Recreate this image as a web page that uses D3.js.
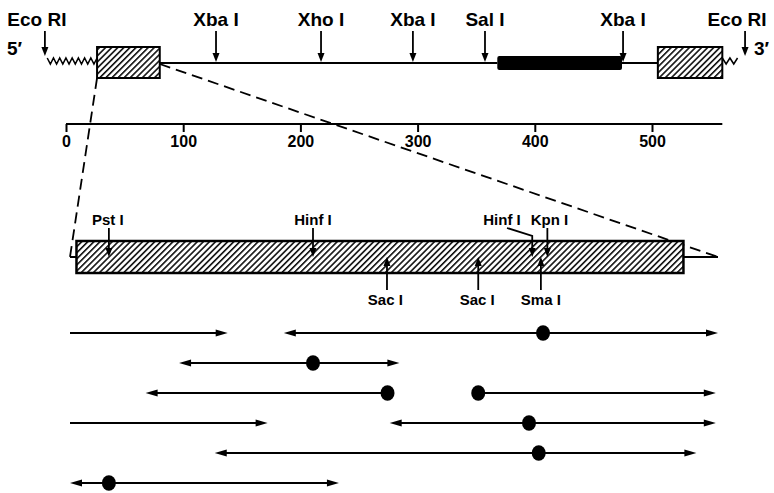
<!DOCTYPE html>
<html><head><meta charset="utf-8">
<script src="https://cdn.jsdelivr.net/npm/d3@7"></script>
<style>
html,body{margin:0;padding:0;background:#fff;}
svg{display:block;font-family:"Liberation Sans",Arial,Helvetica,sans-serif;font-weight:bold;}
</style></head>
<body><svg id="c" width="774" height="493"></svg>
<script>
// ---- data ----
const scaleTicks = [0, 100, 200, 300, 400, 500];
const scaleMax = 560;

const topSiteNames = ["Eco RI", "Xba I", "Xho I", "Xba I", "Sal I", "Xba I", "Eco RI"];
const topSitePos   = [-18, 128, 217.6, 296, 357.5, 475.3, 579.4];

const topSegType  = ["wavy", "hatched", "line", "black", "line", "hatched", "wavy"];
const topSegStart = [-16, 26.5, 80, 368, 474.4, 505, 560];
const topSegEnd   = [26.5, 80, 368, 474.4, 505, 560, 573];

const lowerSiteNames   = ["Pst I", "Hinf I", "Hinf I", "Kpn I", "Sac I", "Sac I", "Sma I"];
const lowerSitePos     = [36, 225, 428, 442, 293.5, 378, 436];
const lowerSiteSide    = ["above", "above", "above", "above", "below", "below", "below"];
const lowerSiteLabelAt = [35, 225, 400, 444, 292, 377, 436];

const lowerRange = [0, 600];
const lowerBox   = [6, 568];

const fragRow   = [0, 0, 1, 2, 2, 3, 3, 4, 5];
const fragFrom  = [0, 198, 101, 70, 378, 0, 296, 134, 0];
const fragTo    = [146, 600, 305, 294, 598, 183, 598, 580, 249];
const fragDot   = [null, 438, 225, 294, 378, null, 425, 434, 36];
const fragHeads = ["end", "both", "both", "start", "end", "end", "both", "both", "both"];

// ---- drawing ----
const svg = d3.select("#c");
const x  = d3.scaleLinear().domain([0, scaleMax]).range([66, 66 + scaleMax * 1.172]);
const xl = d3.scaleLinear().domain(lowerRange).range([70, 718]);
const rowY = d3.scaleLinear().domain([0, 5]).range([333, 483]);

const defs = svg.append("defs");
const pat = defs.append("pattern").attr("id", "hatch").attr("patternUnits", "userSpaceOnUse")
  .attr("width", 4.3).attr("height", 4.3).attr("patternTransform", "rotate(45)");
pat.append("rect").attr("width", 4.3).attr("height", 4.3).attr("fill", "#fff");
pat.append("line").attr("x1", 0.8).attr("y1", 0).attr("x2", 0.8).attr("y2", 4.3)
  .attr("stroke", "#000").attr("stroke-width", 1.5);

const lineY = 63;

function headDown(g, cx, tipY, len, hw) {
  g.append("path").attr("d", `M${cx},${tipY}L${cx - hw},${tipY - len}L${cx + hw},${tipY - len}Z`).attr("fill", "#000");
}
function headUp(g, cx, tipY, len, hw) {
  g.append("path").attr("d", `M${cx},${tipY}L${cx - hw},${tipY + len}L${cx + hw},${tipY + len}Z`).attr("fill", "#000");
}
function headH(g, tipX, cy, dir, len, hw) {
  g.append("path").attr("d", `M${tipX},${cy}L${tipX - dir * len},${cy - hw}L${tipX - dir * len},${cy + hw}Z`).attr("fill", "#000");
}

// dashed zoom lines (behind)
const dash = svg.append("g").attr("stroke", "#000").attr("stroke-width", 1.8).attr("stroke-dasharray", "11,6").attr("fill", "none");
dash.append("line").attr("x1", x(26.5)).attr("y1", 78).attr("x2", xl(lowerRange[0])).attr("y2", 257);
dash.append("line").attr("x1", x(80)).attr("y1", 64).attr("x2", xl(lowerRange[1])).attr("y2", 257);

// top map
const topG = svg.append("g");
topSegType.forEach((t, i) => {
  const a = x(topSegStart[i]), b = x(topSegEnd[i]);
  if (t === "line") {
    topG.append("line").attr("x1", a).attr("x2", b).attr("y1", lineY).attr("y2", lineY)
      .attr("stroke", "#000").attr("stroke-width", 2);
  } else if (t === "hatched") {
    topG.append("rect").attr("x", a).attr("y", 47).attr("width", b - a).attr("height", 31)
      .attr("fill", "url(#hatch)").attr("stroke", "#000").attr("stroke-width", 2);
  } else if (t === "black") {
    topG.append("rect").attr("x", a).attr("y", 56).attr("width", b - a).attr("height", 14).attr("rx", 2)
      .attr("fill", "#000");
  } else if (t === "wavy") {
    const n = Math.max(2, Math.round((b - a) / 6.5));
    const pts = [];
    for (let k = 0; k <= n * 2; k++) {
      pts.push([a + (b - a) * k / (n * 2), k % 2 === 0 ? 58 : 64]);
    }
    topG.append("path").attr("d", d3.line()(pts)).attr("fill", "none").attr("stroke", "#000").attr("stroke-width", 1.5);
  }
});

// top sites
topSiteNames.forEach((name, i) => {
  const cx = x(topSitePos[i]);
  const isEnd = name === "Eco RI";
  const tip = isEnd ? 56 : lineY - 1;
  topG.append("line").attr("x1", cx).attr("x2", cx).attr("y1", 31).attr("y2", tip - 7)
    .attr("stroke", "#000").attr("stroke-width", 1.8);
  headDown(topG, cx, tip, 9, 3.5);
  topG.append("text").attr("x", cx + (isEnd ? -8 : 0)).attr("y", 26).attr("text-anchor", "middle")
    .attr("font-size", 19).text(name);
});
topG.append("text").attr("x", 7).attr("y", 55).attr("font-size", 19).text("5\u2032");
topG.append("text").attr("x", 754).attr("y", 55).attr("font-size", 19).text("3\u2032");

// scale axis
const axisG = svg.append("g").attr("transform", "translate(0,124)")
  .call(d3.axisBottom(x).tickValues(scaleTicks).tickFormat(d3.format("d")).tickSize(8).tickSizeOuter(0).tickPadding(4));
axisG.select(".domain").attr("stroke-width", 2.2).attr("d", `M${x(0)},0H${x(scaleMax)}`);
axisG.selectAll(".tick line").attr("stroke-width", 2);
axisG.selectAll(".tick text").attr("font-size", 16).attr("font-family", "Liberation Sans, Arial, sans-serif").attr("font-weight", "bold").attr("fill", "#000");

// lower map
const low = svg.append("g");
low.append("line").attr("x1", xl(lowerRange[0])).attr("x2", xl(lowerRange[1])).attr("y1", 257).attr("y2", 257)
  .attr("stroke", "#000").attr("stroke-width", 2);
low.append("rect").attr("x", xl(lowerBox[0])).attr("y", 241).attr("width", xl(lowerBox[1]) - xl(lowerBox[0])).attr("height", 32)
  .attr("fill", "url(#hatch)").attr("stroke", "#000").attr("stroke-width", 2.5);

lowerSiteNames.forEach((name, i) => {
  const cx = xl(lowerSitePos[i]);
  const lx = xl(lowerSiteLabelAt[i]);
  if (lowerSiteSide[i] === "above") {
    if (Math.abs(lx - cx) > 8) {
      low.append("path").attr("d", `M${lx + 5},228L${cx},236L${cx},${250}`).attr("fill", "none")
        .attr("stroke", "#000").attr("stroke-width", 1.8);
    } else {
      low.append("line").attr("x1", cx).attr("x2", cx).attr("y1", 228).attr("y2", 250)
        .attr("stroke", "#000").attr("stroke-width", 1.8);
    }
    headDown(low, cx, 257, 9, 3.5);
    low.append("text").attr("x", lx).attr("y", 225).attr("text-anchor", "middle").attr("font-size", 15).text(name);
  } else {
    low.append("line").attr("x1", cx).attr("x2", cx).attr("y1", 290).attr("y2", 264)
      .attr("stroke", "#000").attr("stroke-width", 1.8);
    headUp(low, cx, 257, 9, 3.5);
    low.append("text").attr("x", lx).attr("y", 305).attr("text-anchor", "middle").attr("font-size", 15).text(name);
  }
});

// sequencing fragments
const fr = svg.append("g");
fragRow.forEach((r, i) => {
  const y = rowY(r);
  const a = xl(fragFrom[i]), b = xl(fragTo[i]);
  const h = fragHeads[i];
  const la = (h === "start" || h === "both") ? a + 10 : a;
  const lb = (h === "end" || h === "both") ? b - 10 : b;
  fr.append("line").attr("x1", la).attr("x2", lb).attr("y1", y).attr("y2", y)
    .attr("stroke", "#000").attr("stroke-width", 2);
  if (h === "start" || h === "both") headH(fr, a, y, -1, 12, 3.5);
  if (h === "end" || h === "both") headH(fr, b, y, 1, 12, 3.5);
  if (fragDot[i] !== null) {
    fr.append("ellipse").attr("cx", xl(fragDot[i])).attr("cy", y).attr("rx", 7).attr("ry", 7.8).attr("fill", "#000");
  }
});
</script>
</body></html>
